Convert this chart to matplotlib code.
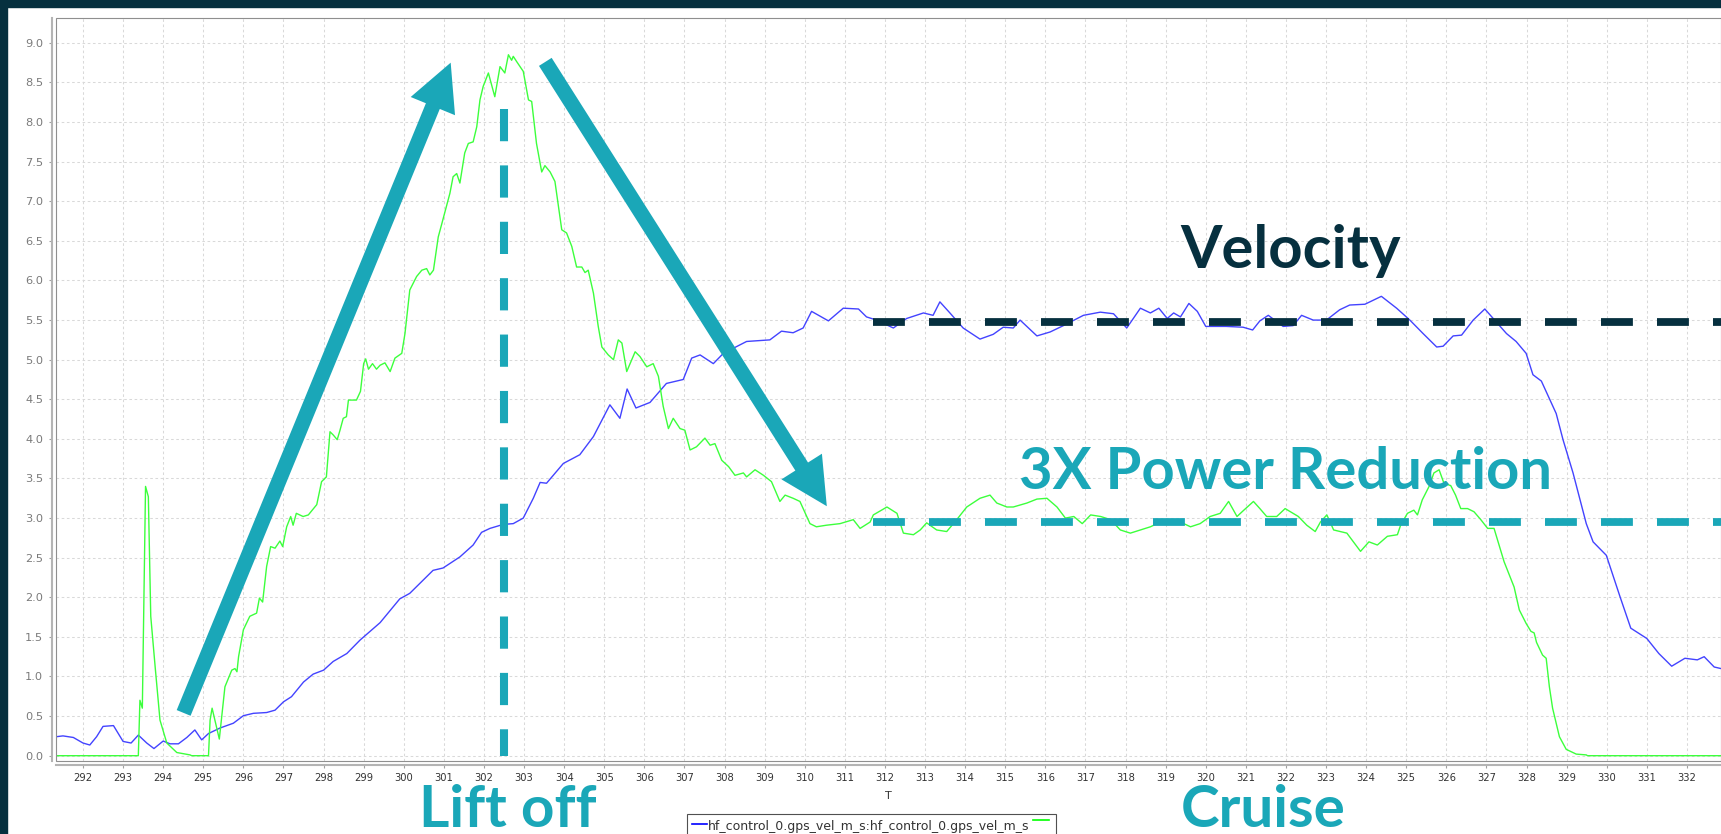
import matplotlib
matplotlib.use("Agg")
import matplotlib.pyplot as plt
from matplotlib.patches import Rectangle, FancyArrowPatch
from matplotlib.lines import Line2D

# --- data (time in s) ---
vel_t = [291.34, 291.5, 291.76, 292.0, 292.17, 292.34, 292.5, 292.76, 292.88, 293.0,
         293.2, 293.38, 293.59, 293.77, 294.0, 294.17, 294.38, 294.59, 294.79, 294.96,
         295.13, 295.42, 295.75, 296.0, 296.25, 296.58, 296.79, 297.0, 297.2, 297.5,
         297.74, 298.0, 298.24, 298.58, 298.91, 299.41, 299.9, 300.15, 300.73, 300.98,
         301.4, 301.73, 301.94, 302.15, 302.48, 302.73, 302.98, 303.23, 303.4, 303.56,
         303.98, 304.39, 304.73, 305.14, 305.39, 305.57, 305.79, 306.14, 306.55, 306.97,
         307.18, 307.39, 307.72, 307.97, 308.55, 309.13, 309.42, 309.71, 309.96, 310.17,
         310.59, 310.96, 311.34, 311.54, 311.79, 312.21, 312.54, 312.96, 313.2, 313.37,
         313.62, 313.95, 314.37, 314.7, 314.95, 315.2, 315.37, 315.79, 316.12, 316.45,
         316.95, 317.37, 317.7, 318.03, 318.37, 318.62, 318.83, 319.04, 319.2, 319.37,
         319.58, 319.79, 320.0, 320.51, 320.93, 321.17, 321.35, 321.56, 321.93, 322.18,
         322.39, 322.68, 323.01, 323.34, 323.59, 323.97, 324.38, 324.76, 325.09, 325.42,
         325.76, 325.92, 326.17, 326.38, 326.67, 326.96, 327.17, 327.5, 327.74, 327.99,
         328.16, 328.37, 328.74, 328.91, 329.16, 329.49, 329.66, 329.99, 330.33, 330.6,
         331.0, 331.3, 331.62, 331.95, 332.26, 332.43, 332.68, 332.85]
vel_v = [0.24, 0.25, 0.23, 0.16, 0.135, 0.24, 0.37, 0.38, 0.28, 0.18,
         0.16, 0.26, 0.16, 0.09, 0.185, 0.15, 0.15, 0.23, 0.325, 0.2,
         0.28, 0.35, 0.41, 0.505, 0.535, 0.545, 0.575, 0.68, 0.745, 0.93,
         1.03, 1.08, 1.19, 1.29, 1.46, 1.68, 1.98, 2.05, 2.34, 2.37,
         2.51, 2.66, 2.82, 2.87, 2.92, 2.93, 3.0, 3.25, 3.45, 3.44,
         3.69, 3.8, 4.03, 4.43, 4.26, 4.63, 4.39, 4.46, 4.7, 4.75,
         5.02, 5.06, 4.95, 5.08, 5.23, 5.25, 5.36, 5.34, 5.4, 5.61,
         5.49, 5.65, 5.64, 5.54, 5.5, 5.4, 5.52, 5.59, 5.56, 5.73,
         5.59, 5.4, 5.26, 5.32, 5.41, 5.4, 5.5, 5.3, 5.35, 5.43,
         5.56, 5.6, 5.58, 5.4, 5.65, 5.59, 5.65, 5.52, 5.59, 5.54,
         5.71, 5.61, 5.42, 5.42, 5.41, 5.375, 5.49, 5.56, 5.42, 5.43,
         5.56, 5.5, 5.5, 5.63, 5.69, 5.7, 5.8, 5.65, 5.5, 5.33,
         5.16, 5.17, 5.3, 5.31, 5.5, 5.64, 5.52, 5.33, 5.23, 5.08,
         4.81, 4.73, 4.32, 3.99, 3.57, 2.93, 2.7, 2.53, 2.01, 1.61,
         1.48, 1.29, 1.13, 1.23, 1.21, 1.25, 1.12, 1.1]

pwr_t = [291.33, 293.38, 293.42, 293.48, 293.52, 293.56, 293.63, 293.69, 293.8, 293.92,
         294.09, 294.34, 294.67, 294.71, 295.13, 295.17, 295.22, 295.4, 295.54, 295.71,
         295.79, 295.84, 295.88, 296.0, 296.16, 296.33, 296.4, 296.48, 296.58, 296.68,
         296.79, 296.91, 296.98, 297.08, 297.18, 297.24, 297.32, 297.49, 297.62, 297.83,
         297.95, 298.07, 298.16, 298.24, 298.34, 298.41, 298.49, 298.57, 298.62, 298.82,
         298.92, 299.0, 299.05, 299.12, 299.22, 299.32, 299.41, 299.53, 299.66, 299.78,
         299.95, 300.03, 300.15, 300.32, 300.45, 300.57, 300.65, 300.74, 300.86, 300.94,
         301.07, 301.15, 301.23, 301.32, 301.4, 301.52, 301.61, 301.73, 301.82, 301.9,
         301.98, 302.11, 302.27, 302.4, 302.52, 302.61, 302.69, 302.73, 302.82, 302.98,
         303.11, 303.19, 303.31, 303.44, 303.52, 303.65, 303.77, 303.94, 304.06, 304.19,
         304.31, 304.44, 304.52, 304.6, 304.73, 304.85, 304.94, 305.1, 305.23, 305.35,
         305.44, 305.56, 305.77, 305.89, 306.06, 306.22, 306.35, 306.47, 306.6, 306.72,
         306.89, 307.01, 307.14, 307.3, 307.51, 307.64, 307.76, 307.93, 308.1, 308.26,
         308.47, 308.55, 308.76, 308.97, 309.17, 309.38, 309.51, 309.71, 309.88, 310.13,
         310.29, 310.54, 310.88, 311.21, 311.38, 311.63, 311.71, 312.05, 312.3, 312.46,
         312.71, 312.88, 313.04, 313.29, 313.54, 313.79, 314.04, 314.37, 314.62, 314.79,
         315.04, 315.2, 315.54, 315.79, 316.04, 316.29, 316.5, 316.71, 316.92, 317.13,
         317.38, 317.63, 317.87, 318.12, 318.37, 318.62, 318.87, 319.12, 319.37, 319.62,
         319.86, 320.11, 320.36, 320.57, 320.78, 320.95, 321.19, 321.35, 321.52, 321.77,
         321.98, 322.31, 322.52, 322.73, 322.86, 323.02, 323.19, 323.36, 323.52, 323.86,
         324.07, 324.28, 324.53, 324.78, 324.86, 325.03, 325.19, 325.28, 325.4, 325.57,
         325.69, 325.82, 325.94, 326.11, 326.23, 326.36, 326.53, 326.69, 326.86, 327.03,
         327.19, 327.44, 327.69, 327.82, 327.99, 328.11, 328.19, 328.25, 328.4, 328.49,
         328.57, 328.65, 328.74, 328.82, 328.99, 329.24, 329.49, 329.52, 332.85]
pwr_v = [0.0, 0.0, 0.7, 0.6, 2.0, 3.4, 3.27, 1.76, 1.12, 0.45,
         0.16, 0.04, 0.01, 0.0, 0.0, 0.45, 0.6, 0.21, 0.87, 1.08,
         1.1, 1.06, 1.25, 1.59, 1.76, 1.8, 1.99, 1.94, 2.39, 2.64,
         2.62, 2.71, 2.64, 2.89, 3.02, 2.91, 3.06, 3.02, 3.04, 3.17,
         3.46, 3.52, 4.09, 4.05, 3.99, 4.11, 4.26, 4.28, 4.49, 4.49,
         4.6, 4.95, 5.01, 4.88, 4.95, 4.88, 4.93, 4.96, 4.85, 5.02,
         5.08, 5.33, 5.88, 6.05, 6.13, 6.15, 6.07, 6.13, 6.55, 6.7,
         6.95, 7.1, 7.31, 7.35, 7.23, 7.61, 7.73, 7.75, 7.94, 8.28,
         8.45, 8.62, 8.32, 8.7, 8.62, 8.85, 8.78, 8.83, 8.76, 8.64,
         8.28, 8.26, 7.73, 7.37, 7.45, 7.37, 7.25, 6.64, 6.6, 6.43,
         6.17, 6.17, 6.1, 6.13, 5.84, 5.42, 5.16, 5.06, 5.0, 5.25,
         5.21, 4.85, 5.1, 5.04, 4.91, 4.95, 4.79, 4.41, 4.13, 4.26,
         4.13, 4.11, 3.86, 3.9, 4.01, 3.92, 3.94, 3.73, 3.65, 3.54,
         3.57, 3.52, 3.61, 3.54, 3.46, 3.21, 3.29, 3.25, 3.21, 2.93,
         2.89, 2.91, 2.93, 2.98, 2.87, 2.95, 3.04, 3.14, 3.06, 2.81,
         2.79, 2.85, 2.94, 2.85, 2.83, 2.98, 3.14, 3.25, 3.29, 3.19,
         3.14, 3.14, 3.19, 3.24, 3.25, 3.14, 3.0, 3.02, 2.93, 3.04,
         3.02, 2.98, 2.85, 2.81, 2.85, 2.89, 2.95, 2.93, 2.95, 2.89,
         2.93, 3.02, 3.06, 3.21, 3.02, 3.1, 3.21, 3.12, 3.02, 3.02,
         3.12, 3.02, 2.91, 2.83, 2.95, 3.04, 2.85, 2.83, 2.81, 2.58,
         2.7, 2.66, 2.77, 2.79, 2.91, 3.06, 3.1, 3.04, 3.23, 3.4,
         3.57, 3.61, 3.44, 3.41, 3.29, 3.12, 3.12, 3.08, 2.98, 2.87,
         2.87, 2.45, 2.13, 1.84, 1.67, 1.57, 1.55, 1.43, 1.27, 1.23,
         0.87, 0.6, 0.41, 0.24, 0.08, 0.02, 0.01, 0.0, 0.0]

x_ticks = list(range(292, 333))
y_ticks = [i * 0.5 for i in range(19)]
legend_label = "hf_control_0.gps_vel_m_s:hf_control_0.gps_vel_m_s"

liftoff_t = 302.5      # vertical marker
cruise_start = 311.7   # where the cruise guide lines begin
cruise_vel = 5.475
cruise_pwr = 2.955

NAVY = "#06303f"
TEAL = "#1aa7b8"
BLUE = "#4343ff"
GREEN = "#3cff3c"
W, H = 1721, 834


def fx(px):
    return px / W


def fy(py):
    return 1 - py / H


fig = plt.figure(figsize=(W / 100, H / 100), dpi=100, facecolor="white")
ax = fig.add_axes([fx(56), fy(761), (W - 56) / W, (761 - 18) / H])

ax.plot(vel_t, vel_v, color=BLUE, lw=1.0, zorder=3)
ax.plot(pwr_t, pwr_v, color=GREEN, lw=1.0, zorder=3)

ax.set_xlim(291.327, 332.85)
ax.set_ylim(-0.067, 9.314)
ax.set_xticks(x_ticks)
ax.set_yticks(y_ticks)
ax.set_yticklabels([f"{v:.1f}" for v in y_ticks])
ax.grid(True, color="#d9d9d9", lw=0.75, linestyle=(0, (2.5, 2.5)))
ax.set_axisbelow(True)

# JFreeChart-like frame: plot outline plus offset axis lines
for s in ["top", "right"]:
    ax.spines[s].set_visible(False)
for s in ["left", "bottom"]:
    ax.spines[s].set_position(("outward", 3))
    ax.spines[s].set_color("#b4b4b4")
    ax.spines[s].set_linewidth(1.5)
ax.add_patch(Rectangle((0, 0), 1, 1, transform=ax.transAxes, fill=False,
                       ec="#8f8f8f", lw=0.8, clip_on=False, zorder=4))
ax.tick_params(direction="out", length=2.2, width=0.8, color="#a0a0a0")
ax.tick_params(axis="y", labelsize=8.2, labelcolor="#7a7a7a", pad=4)
ax.tick_params(axis="x", labelsize=7.2, labelcolor="#333333", pad=3.5)
ax.set_xlabel("T", fontsize=8, color="#333333", labelpad=6)

# guide lines
ax.plot([liftoff_t, liftoff_t], [8.17, 0.0], color=TEAL, lw=5.8,
        dashes=(4, 3), dash_capstyle="butt", zorder=5)
ax.plot([cruise_start, 334], [cruise_vel, cruise_vel], color=NAVY, lw=5.6,
        dashes=(4.1, 3.1), dash_capstyle="butt", zorder=5)
ax.plot([cruise_start, 334], [cruise_pwr, cruise_pwr], color=TEAL, lw=5.6,
        dashes=(4.1, 3.1), dash_capstyle="butt", zorder=5)

# trend arrows
style = "simple,head_length=33.8,head_width=34.5,tail_width=10.8"
for a, b in [((294.51, 0.54), (301.17, 8.75)), ((303.53, 8.76), (310.55, 3.15))]:
    ax.add_patch(FancyArrowPatch(a, b, arrowstyle=style, mutation_scale=1,
                                 color=TEAL, lw=0, shrinkA=0, shrinkB=0, zorder=6))

big = dict(family="Lato", weight="bold", va="baseline", ha="left")
fig.text(fx(1180), fy(268), "Velocity", color=NAVY, fontsize=43, **big)
fig.text(fx(1019), fy(489), "3X Power Reduction", color=TEAL, fontsize=41.8, **big)
fig.text(fx(419), fy(827), "Lift off", color=TEAL, fontsize=42, **big)
fig.text(fx(1181), fy(827), "Cruise", color=TEAL, fontsize=42, **big)

# legend box (series swatches on both sides, as in the source tool)
fig.patches.append(Rectangle((fx(687), fy(845)), (1056 - 687) / W, (845 - 814) / H,
                             transform=fig.transFigure, fill=False, ec="#505050", lw=0.8))
fig.lines.append(Line2D([fx(691.7), fx(706.7)], [fy(824), fy(824)],
                        transform=fig.transFigure, color="#0000ff", lw=1.2))
fig.lines.append(Line2D([fx(1033), fx(1049)], [fy(820), fy(820)],
                        transform=fig.transFigure, color="#00ff00", lw=1.2))
fig.text(fx(708), fy(830), legend_label, fontsize=9.0, color="#333333", va="baseline")

# dark slide border on top and left
fig.patches.append(Rectangle((0, fy(7)), 1, 7 / H, transform=fig.transFigure,
                             color=NAVY, zorder=10))
fig.patches.append(Rectangle((0, 0), 7 / W, 1, transform=fig.transFigure,
                             color=NAVY, zorder=10))

fig.savefig("out.png", dpi=100)
